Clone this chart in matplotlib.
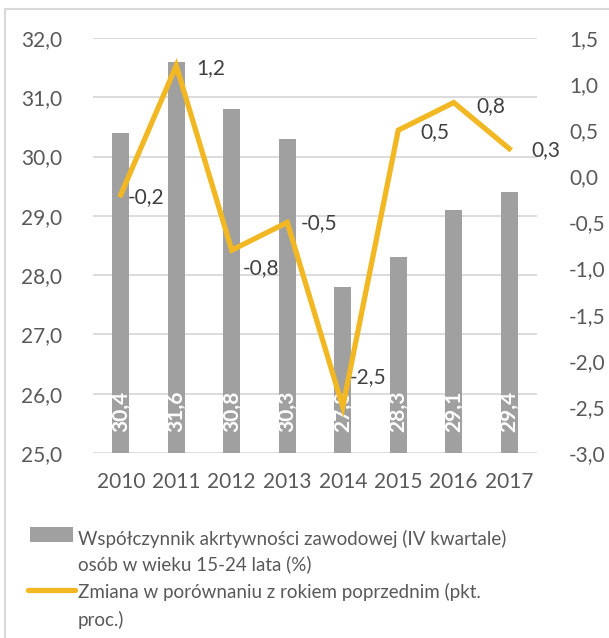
import matplotlib
matplotlib.use("Agg")
import matplotlib.pyplot as plt
from matplotlib.patches import Rectangle
from matplotlib.lines import Line2D

plt.rcParams['font.family'] = ['Lato', 'DejaVu Sans']

years = ["2010", "2011", "2012", "2013", "2014", "2015", "2016", "2017"]
activity_rate = [30.4, 31.6, 30.8, 30.3, 27.8, 28.3, 29.1, 29.4]
yoy_change = [-0.2, 1.2, -0.8, -0.5, -2.5, 0.5, 0.8, 0.3]
left_ticks = [25.0, 26.0, 27.0, 28.0, 29.0, 30.0, 31.0, 32.0]
right_ticks = [-3.0, -2.5, -2.0, -1.5, -1.0, -0.5, 0.0, 0.5, 1.0, 1.5]
bar_legend = ["Współczynnik akrtywności zawodowej (IV kwartale)",
              "osób w wieku 15-24 lata (%)"]
line_legend = ["Zmiana w porównaniu z rokiem poprzednim (pkt.",
               "proc.)"]

BAR_COLOR = "#A0A0A0"
LINE_COLOR = "#F1B823"
GRID_COLOR = "#D9D9D9"
TICK_COLOR = "#595959"
LABEL_COLOR = "#404040"
FS = 15
LEG_FS = 13.5


def pl(v):
    return f"{v:.1f}".replace(".", ",")


W, H = 609, 638
fig = plt.figure(figsize=(W / 100, H / 100), dpi=100)


def fx(px):
    return px / W


def fy(py):
    return 1 - py / H


# outer frame
fig.patches.append(Rectangle((fx(5), -0.1), 1.2, fy(9) + 0.1,
                             transform=fig.transFigure, fill=False,
                             edgecolor=GRID_COLOR, linewidth=1.5))

ax = fig.add_axes([fx(93), fy(453), (537 - 93) / W, (453 - 38) / H])
x = list(range(len(years)))
ax.bar(x, activity_rate, width=0.31, color=BAR_COLOR, zorder=2)
ax.set_ylim(25, 32)
ax.set_xlim(-0.5, len(years) - 0.5)
ax.set_yticks(left_ticks)
ax.set_yticklabels([pl(v) for v in left_ticks])
ax.set_xticks(x)
ax.set_xticklabels(years)
ax.grid(axis="y", color=GRID_COLOR, linewidth=1.3, zorder=0)
for s in ax.spines.values():
    s.set_visible(False)
ax.tick_params(axis="both", length=0, labelsize=FS, labelcolor=TICK_COLOR)
ax.tick_params(axis="y", pad=22)
ax.tick_params(axis="x", pad=14)

for xi, v in zip(x, activity_rate):
    ax.annotate(pl(v), xy=(xi, 25), xytext=(0, 21), textcoords="offset pixels",
                rotation=90, ha="center", va="bottom", color="white",
                fontsize=FS, fontweight="bold", zorder=3)

ax2 = ax.twinx()
ax2.plot(x, yoy_change, color=LINE_COLOR, linewidth=3.8,
         solid_joinstyle="miter", zorder=4)
ax2.set_ylim(-3.0, 1.5)
ax2.set_yticks(right_ticks)
ax2.set_yticklabels([pl(v) for v in right_ticks])
for s in ax2.spines.values():
    s.set_visible(False)
ax2.tick_params(axis="y", length=0, labelsize=FS, labelcolor=TICK_COLOR, pad=23)

label_offsets = [(7, -2), (20, -2), (11, -18), (14, -1), (7, 30), (22, -2), (23, -4), (22, -1)]
for xi, v, (dx, dy) in zip(x, yoy_change, label_offsets):
    ax2.annotate(pl(v), xy=(xi, v), xytext=(dx, dy), textcoords="offset pixels",
                 ha="left", va="center", color=LABEL_COLOR, fontsize=FS, zorder=5)

# legend below the plot: swatches plus wrapped captions
fig.patches.append(Rectangle((fx(30), fy(542)), (73 - 30) / W, (542 - 527) / H,
                             transform=fig.transFigure, facecolor=BAR_COLOR,
                             edgecolor="none"))
fig.lines.append(Line2D([fx(28), fx(75)], [fy(590), fy(590)],
                        transform=fig.transFigure, color=LINE_COLOR,
                        linewidth=3.8, solid_capstyle="round"))
line_y = [537, 563, 590, 618]
for txt, py in zip(bar_legend + line_legend, line_y):
    fig.text(fx(78), fy(py), txt, ha="left", va="center_baseline",
             fontsize=LEG_FS, color=TICK_COLOR)

fig.savefig("out.png", dpi=100)
